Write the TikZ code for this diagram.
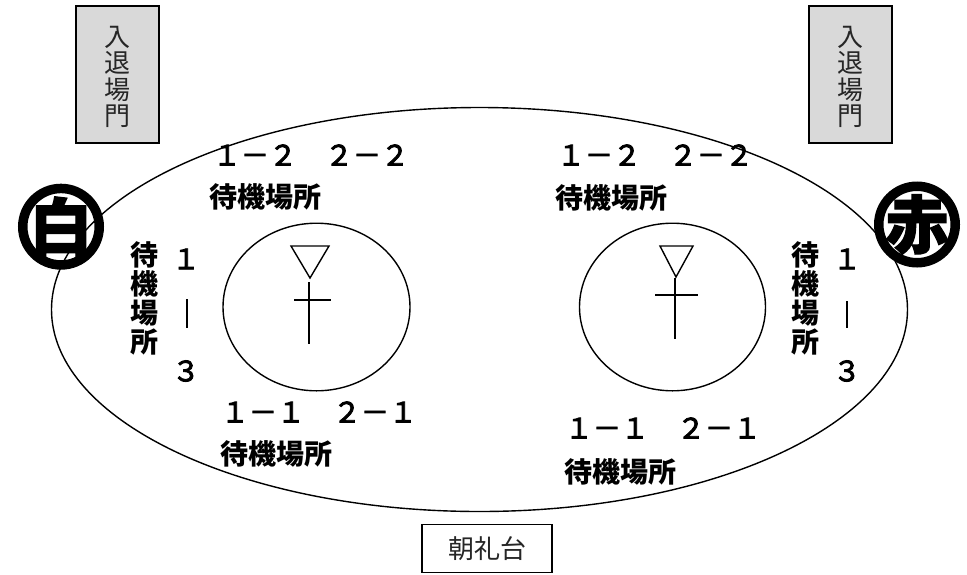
\documentclass[tikz,border=0pt]{standalone}
\usepackage{fontspec}
\usepackage{tikz}
\newfontfamily\jpfont{Noto Sans CJK JP}
\newfontfamily\jpnum[FakeBold=3]{Noto Sans CJK JP}
\newfontfamily\jpheavy[BoldFeatures={FakeBold=2}]{Noto Sans CJK JP}
\definecolor{sgate}{HTML}{D9D9D9}

\begin{document}
\begin{tikzpicture}[x=1pt,y=-1pt,
    GATE/.style={draw=black, line width=1.4pt, fill=sgate, minimum width=83pt, minimum height=137pt, inner sep=0pt, font=\jpfont\fontsize{26}{26.5}\selectfont, text=black!85},
    WAIT/.style={inner sep=0pt, font=\jpfont\bfseries\fontsize{28}{29}\selectfont},
    NUM/.style={inner sep=0pt, font=\jpnum\fontsize{28}{34}\selectfont},
    BADGE/.style={draw=black, line width=9.5pt, fill=white, circle, minimum size=76.5pt, inner sep=-14pt, font=\jpheavy\bfseries\fontsize{63}{63}\selectfont},
    FIELD/.style={line width=1.4pt}
    ]
        \useasboundingbox (0,0) rectangle (967,574);
        % gates
        \node[GATE] (G1) at (117.5,74.5) {\parbox{26pt}{\centering\vspace{5pt}入\\退\\場\\門}};
        \node[GATE] (G2) at (850.5,74.5) {\parbox{26pt}{\centering\vspace{5pt}入\\退\\場\\門}};
        % field
        \node[BADGE] (B1) at (61,226.7) {白};
        \draw[FIELD] (479.5,309.5) ellipse [x radius=428, y radius=202];
        \node[BADGE] (B2) at (917,224.5) {赤};
        \draw[FIELD] (316.5,307) ellipse [x radius=93.5, y radius=83.8];
        \draw[FIELD] (672.5,307) ellipse [x radius=93, y radius=83.8];
        % flags
        \draw[FIELD] (291,246) -- (329,246) -- (310,278) -- cycle;
        \draw[FIELD] (309,282) -- (309,344) (294,300) -- (331,300);
        \draw[FIELD] (660,246) -- (693,246) -- (676,277) -- cycle;
        \draw[FIELD] (675,278) -- (675,339) (655,295) -- (698,295);
        % numbers and labels
        \node[NUM] (N1) at (311,155) {１－２　２－２};
        \node[WAIT] (W1) at (265,197) {待機場所};
        \node[NUM] (N2) at (655,155) {１－２　２－２};
        \node[WAIT] (W2) at (611,198) {待機場所};
        \node[NUM] (N3) at (319,412) {１－１　２－１};
        \node[WAIT] (W3) at (276,454) {待機場所};
        \node[NUM] (N4) at (663,428) {１－１　２－１};
        \node[WAIT] (W4) at (620,472) {待機場所};
        % side labels
        \node[WAIT] (W5) at (144,298) {\parbox{28pt}{\centering 待\\機\\場\\所}};
        \node[WAIT] (W6) at (805,298) {\parbox{28pt}{\centering 待\\機\\場\\所}};
        \node[NUM] (S1) at (186,259) {１};
        \node[NUM] (S2) at (186,371) {３};
        \node[NUM] (S3) at (847,259) {１};
        \node[NUM] (S4) at (847,371) {３};
        \draw[line width=2.6pt] (187,299) -- (187,328);
        \draw[line width=2.6pt] (847,301) -- (847,328);
        % stand
        \node[draw, line width=1.4pt, minimum width=130pt, minimum height=48.5pt, inner sep=0pt, font=\jpfont\fontsize{26}{26}\selectfont, text=black!85] (STAND) at (487,548.5) {朝礼台};
    \end{tikzpicture}
\end{document}
